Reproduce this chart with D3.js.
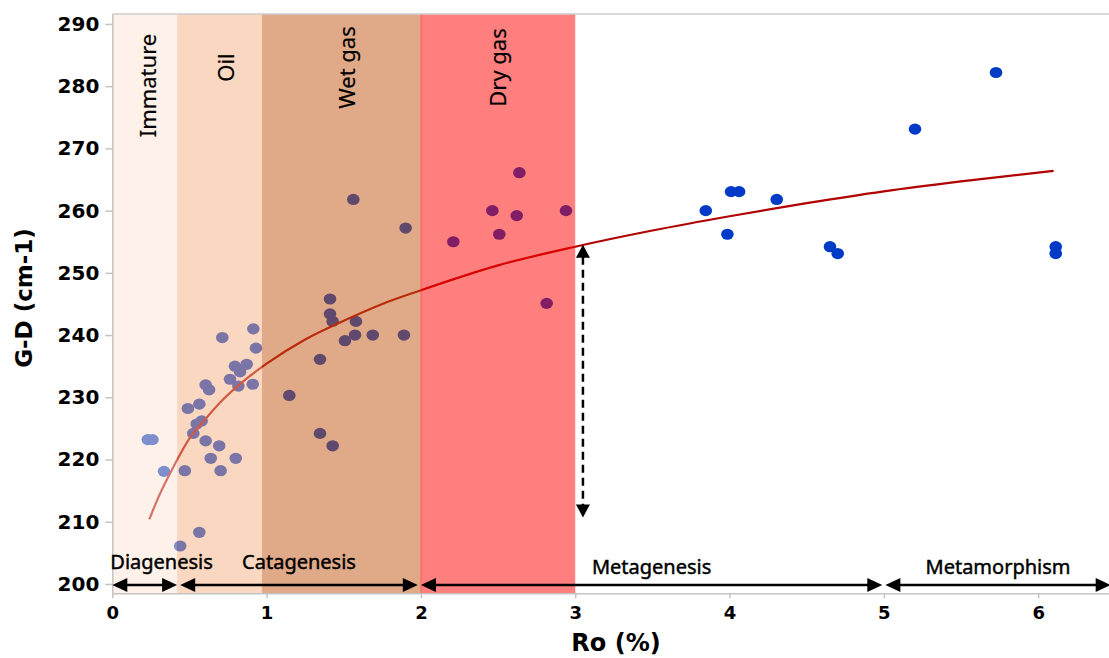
<!DOCTYPE html>
<html>
<head>
<title>G-D vs Ro</title>
<script src="https://d3js.org/d3.v7.min.js" charset="utf-8"></script>
<style>
	body { margin: 0; background: white; }
	.tick text { font-family: "DejaVu Sans", sans-serif; font-weight: bold; fill: black; }
	.zone-label, .stage-label { font-family: "Noto Sans", sans-serif; fill: black; }
</style>
</head>
<body>
<script>
// samples
var pointsRo = [0.23, 0.26, 0.335, 0.44, 0.47, 0.49, 0.525, 0.547, 0.564, 0.564, 0.579, 0.605, 0.605, 0.627, 0.638,
	0.693, 0.702, 0.713, 0.763, 0.795, 0.80, 0.817, 0.828, 0.871, 0.91, 0.914, 0.931,
	1.147, 1.346, 1.346, 1.411, 1.411, 1.428, 1.428, 1.508, 1.562, 1.573, 1.579, 1.688, 1.89, 1.901,
	2.21, 2.463, 2.508, 2.621, 2.638, 2.815, 2.94,
	3.846, 3.986, 4.01, 4.062, 4.306, 4.651, 4.701, 5.202, 5.727, 6.114, 6.114];
var pointsGD = [223.2, 223.2, 218.1, 206.1, 218.2, 228.2, 224.2, 225.7, 228.9, 208.3, 226.2, 223.0, 232.0, 231.2, 220.2,
	222.2, 218.2, 239.6, 232.9, 235.0, 220.2, 231.8, 234.1, 235.3, 232.1, 241.0, 237.9,
	230.3, 236.1, 224.2, 245.8, 243.4, 242.2, 222.2, 239.1, 261.8, 240.0, 242.2, 240.0, 240.0, 257.2,
	255.0, 260.0, 256.2, 259.2, 266.1, 245.1, 260.0,
	260.0, 256.2, 263.05, 263.05, 261.8, 254.2, 253.1, 273.1, 282.2, 254.2, 253.1];

// trend line
var curveRo = [0.24, 0.3, 0.4, 0.5, 0.6, 0.7, 0.85, 1.0, 1.25, 1.5, 1.75, 2.0, 2.5, 3.0, 3.5, 4.0, 4.5, 5.0, 5.5, 6.1];
var curveGD = [210.4, 214, 219, 223.4, 226.4, 229.2, 232.6, 235.4, 239.3, 242.3, 245, 247.2, 251.2, 254.2, 256.8, 259.1, 261.2, 263.1, 264.7, 266.4];

// maturity zones
var zoneNames = ["Immature", "Oil", "Wet gas", "Dry gas"];
var zoneFrom = [0, 0.42, 0.97, 2.0];
var zoneTo = [0.42, 0.97, 2.0, 3.0];
var zoneLabelRo = [0.23, 0.74, 1.52, 2.5];
var zoneLabelGD = [280.1, 283, 283, 283];

// diagenetic stages along the bottom
var stageNames = ["Diagenesis", "Catagenesis", "Metagenesis", "Metamorphism"];
var stageFrom = [0, 0.44, 2.0, 5.01];
var stageTo = [0.42, 1.98, 4.99, 6.47];
var stageLabelGD = [202.36, 202.36, 201.56, 201.56];

var xTicks = [0, 1, 2, 3, 4, 5, 6];
var yTicks = [200, 210, 220, 230, 240, 250, 260, 270, 280, 290];

// dashed double arrow at the end of the dry gas window
var markRo = 3.05, markTop = 254.5, markBottom = 210.7;

var zoneFill = ["#fbe3d3", "#f3af83", "#c15511", "#ff0000"];

var width = 1109;
var height = 658;

var svg = d3.select("body").append("svg")
	.attr("width", width)
	.attr("height", height);

var x = d3.scaleLinear().domain([0, 6.5]).range([112.3, 1115.3]);
var y = d3.scaleLinear().domain([198.5, 291.6]).range([593.3, 14]);

var plotTop = y(291.6), plotBottom = y(198.5);

// points and curve sit under the translucent zones
var dots = svg.append("g");
dots.selectAll("ellipse")
	.data(d3.range(pointsRo.length))
	.enter()
	.append("ellipse")
	.attr("cx", function(i){ return x(pointsRo[i]); })
	.attr("cy", function(i){ return y(pointsGD[i]); })
	.attr("rx", 6.3)
	.attr("ry", 5.6)
	.attr("fill", "#003bc8");

var line = d3.line()
	.x(function(i){ return x(curveRo[i]); })
	.y(function(i){ return y(curveGD[i]); })
	.curve(d3.curveMonotoneX);

svg.append("path")
	.attr("d", line(d3.range(curveRo.length)))
	.attr("fill", "none")
	.attr("stroke", "#b10000")
	.attr("stroke-width", 2.2);

// zones
var zones = svg.append("g");
zones.selectAll("rect")
	.data(d3.range(zoneNames.length))
	.enter()
	.append("rect")
	.attr("x", function(i){ return x(zoneFrom[i]); })
	.attr("width", function(i){ return x(zoneTo[i]) - x(zoneFrom[i]); })
	.attr("y", plotTop)
	.attr("height", plotBottom - plotTop)
	.attr("fill", function(i){ return zoneFill[i]; })
	.attr("fill-opacity", 0.5);

svg.append("line")
	.attr("x1", x(2)).attr("x2", x(2))
	.attr("y1", plotTop).attr("y2", plotBottom)
	.attr("stroke", "#ff3030")
	.attr("stroke-opacity", 0.5)
	.attr("stroke-width", 1);

zones.selectAll("text")
	.data(d3.range(zoneNames.length))
	.enter()
	.append("text")
	.attr("class", "zone-label")
	.attr("transform", function(i){ return "translate(" + (x(zoneLabelRo[i]) + 8) + "," + y(zoneLabelGD[i]) + ") rotate(-90)"; })
	.attr("text-anchor", "middle")
	.style("font-size", "22px")
	.style("stroke", "black")
	.style("stroke-width", 0.2)
	.text(function(i){ return zoneNames[i]; });

// axes
var xAxis = svg.append("g")
	.attr("transform", "translate(0," + plotBottom + ")")
	.call(d3.axisBottom(x).tickValues(xTicks).tickFormat(d3.format("d"))
		.tickSize(5).tickSizeOuter(0).tickPadding(7.5));
xAxis.selectAll("text").style("font-size", "18px");

var yAxis = svg.append("g")
	.attr("transform", "translate(" + x(0) + ",0)")
	.call(d3.axisLeft(y).tickValues(yTicks).tickSize(7).tickSizeOuter(0).tickPadding(6));
yAxis.selectAll("text").style("font-size", "20px");

svg.selectAll(".domain, .tick line").attr("stroke", "#c4c4c4").attr("stroke-width", 1.5);

svg.append("line")
	.attr("x1", x(0)).attr("x2", width)
	.attr("y1", plotTop).attr("y2", plotTop)
	.attr("stroke", "#cccccc")
	.attr("stroke-width", 1.5);

// stage arrows
function triangle(tx, ty, dir, len, half) {
	// dir: direction the tip points, as [dx, dy]
	var bx = tx - dir[0] * len, by = ty - dir[1] * len;
	var px = -dir[1] * half, py = dir[0] * half;
	return "M" + tx + "," + ty + "L" + (bx + px) + "," + (by + py) + "L" + (bx - px) + "," + (by - py) + "Z";
}

var stages = svg.append("g");
var arrowY = y(200) + 1;
stageNames.forEach(function(name, i){
	var x1 = x(stageFrom[i]), x2 = x(stageTo[i]);
	stages.append("line")
		.attr("x1", x1 + 6).attr("x2", x2 - 6)
		.attr("y1", arrowY).attr("y2", arrowY)
		.attr("stroke", "black")
		.attr("stroke-width", 2.5);
	stages.append("path").attr("d", triangle(x1, arrowY, [-1, 0], 15, 7)).attr("fill", "black");
	stages.append("path").attr("d", triangle(x2, arrowY, [1, 0], 15, 7)).attr("fill", "black");

	var t = stages.append("text")
		.attr("class", "stage-label")
		.attr("y", y(stageLabelGD[i]))
		.attr("text-anchor", "middle")
		.style("font-size", "20px")
		.style("stroke", "black")
		.style("stroke-width", 0.45)
		.text(name);
	var w = t.node().getComputedTextLength();
	var cx = Math.max((x1 + x2) / 2, x1 - 2 + w / 2);
	t.attr("x", cx);
});

// dashed marker
var mx = x(markRo), my1 = y(markTop), my2 = y(markBottom);
svg.append("line")
	.attr("x1", mx).attr("x2", mx)
	.attr("y1", my1 + 12).attr("y2", my2 - 12)
	.attr("stroke", "black")
	.attr("stroke-width", 2.5)
	.attr("stroke-dasharray", "8,5");
svg.append("path").attr("d", triangle(mx, my1, [0, -1], 13, 7)).attr("fill", "black");
svg.append("path").attr("d", triangle(mx, my2, [0, 1], 13, 7)).attr("fill", "black");

// axis titles
svg.append("text")
	.attr("x", 616)
	.attr("y", 651)
	.attr("text-anchor", "middle")
	.style("font-family", "DejaVu Sans, sans-serif")
	.style("font-weight", "bold")
	.style("font-size", "24px")
	.text("Ro (%)");

svg.append("text")
	.attr("transform", "translate(32,298) rotate(-90)")
	.attr("text-anchor", "middle")
	.style("font-family", "DejaVu Sans, sans-serif")
	.style("font-weight", "bold")
	.style("font-size", "23px")
	.text("G-D (cm-1)");
</script>
</body>
</html>
